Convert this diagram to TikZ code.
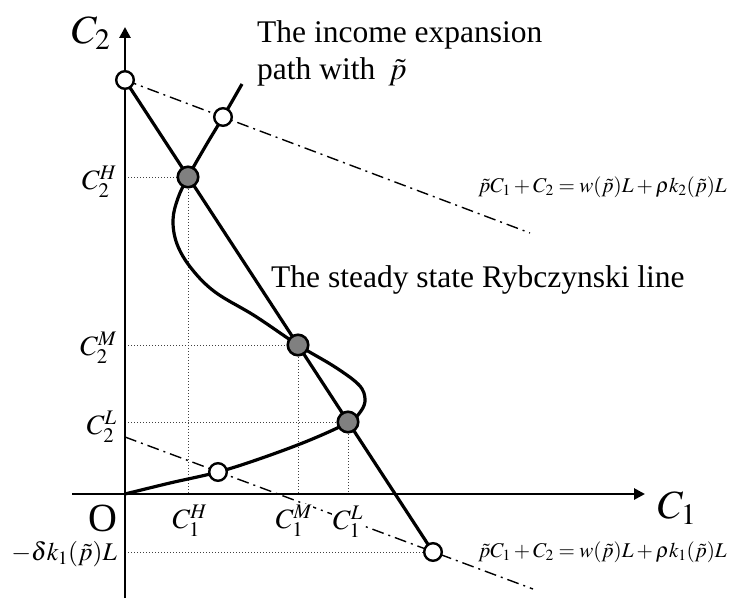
\documentclass[tikz,border=0pt]{standalone}
\usepackage{mathptmx}
\usepackage[no-math]{fontspec}
\setmainfont{Liberation Serif}
\usetikzlibrary{arrows.meta}
\tikzset{
 curveline/.style={line width=3.2pt, line join=round},
 axisline/.style={line width=2.8pt},
 budget/.style={line width=1.4pt, dash pattern=on 12pt off 5pt on 2pt off 5pt},
 guide/.style={line width=0.9pt, black!75, dash pattern=on 1pt off 2pt},
 graydot/.style={circle, draw, line width=2.6pt, fill=black!50, minimum size=20.5pt, inner sep=0pt},
 whitedot/.style={circle, draw, line width=2.4pt, fill=white, minimum size=17.6pt, inner sep=0pt},
 ticklab/.style={font=\fontsize{28}{30}\selectfont, inner sep=1pt, fill=white},
 axislab/.style={font=\fontsize{40}{44}\selectfont, inner sep=0pt},
 textlab/.style={font=\fontsize{31.5}{37}\selectfont, anchor=base west, inner sep=0pt},
 eqlab/.style={font=\fontsize{21}{24}\selectfont, anchor=west, inner sep=0pt},
}
\begin{document}
\begin{tikzpicture}[x=1pt,y=-1pt]
\useasboundingbox (0,0) rectangle (730,599);
% key points
\coordinate (O) at (125,494);
\coordinate (A) at (125,80);
\coordinate (B) at (433,552);
\coordinate (H) at (188,177);
\coordinate (M) at (298,345);
\coordinate (L) at (348,422);
\coordinate (W1) at (223,117);
\coordinate (W2) at (218,472);
\coordinate (U1) at (530,233);
\coordinate (D0) at (125,437);
\coordinate (D1) at (533,589);
\coordinate (XS) at (72,494);
\coordinate (XE) at (645,494);
\coordinate (YS) at (125,598);
\coordinate (YE) at (125,27);
% guides
\coordinate (HY) at (125,177);
\coordinate (MY) at (125,345);
\coordinate (LY) at (125,422);
\coordinate (BY) at (125,552);
\coordinate (HX) at (188,494);
\coordinate (MX) at (298,494);
\coordinate (LX) at (348,494);
\draw[guide] (HY) -- (H);
\draw[guide] (MY) -- (M);
\draw[guide] (LY) -- (L);
\draw[guide] (BY) -- (B);
\draw[guide] (H) -- (HX);
\draw[guide] (M) -- (MX);
\draw[guide] (L) -- (LX);
% budget lines
\draw[budget] (A) -- (U1);
\draw[budget] (D0) -- (D1);
% axes
\draw[axisline, -{Triangle[length=11pt,width=11pt]}] (XS) -- (XE);
\draw[axisline, -{Triangle[length=11pt,width=11pt]}] (YS) -- (YE);
% Rybczynski line
\draw[curveline] (A) -- (B);
% income expansion path
\draw[curveline] plot[smooth, tension=0.6] coordinates {
 (125,494) (170,483) (218,472) (262,458) (310,440) (349,422) (361,411) (365,399)
 (359,385) (335,367) (298,345) (255,316) (215,292) (191,268) (177,244) (173,220)
 (178,198) (188,177) (205,147) (223,117) (242,84)};
% dots
\node[whitedot] (nA) at (A) {};
\node[whitedot] (nW1) at (W1) {};
\node[whitedot] (nW2) at (W2) {};
\node[whitedot] (nB) at (B) {};
\node[graydot] (nH) at (H) {};
\node[graydot] (nM) at (M) {};
\node[graydot] (nL) at (L) {};
% axis labels
\node[axislab] (lC2) at (91,33) {$C_2$};
\node[axislab] (lC1) at (677,508) {$C_1$};
\node[axislab] (lO) at (103,518) {O};
% tick labels
\node[ticklab, anchor=east] (t2H) at (118,182) {$C_2^H$};
\node[ticklab, anchor=east] (t2M) at (118,348) {$C_2^M$};
\node[ticklab, anchor=east] (t2L) at (118,427) {$C_2^L$};
\node[ticklab, anchor=east, font=\fontsize{25.5}{28}\selectfont] (tdk) at (118,554) {$-\delta k_1(\tilde{p})L$};
\node[ticklab] (t1H) at (190,521) {$C_1^H$};
\node[ticklab] (t1M) at (294,521) {$C_1^M$};
\node[ticklab] (t1L) at (348,522) {$C_1^L$};
% equations
\node[eqlab] (e2) at (478,187) {$\tilde{p}C_1+C_2=w(\tilde{p})L+\rho k_2(\tilde{p})L$};
\node[eqlab] (e1) at (478,552) {$\tilde{p}C_1+C_2=w(\tilde{p})L+\rho k_1(\tilde{p})L$};
% texts
\node[textlab] (tx1) at (257,43) {The income expansion};
\node[textlab] (tx2) at (257,80) {path with\, $\tilde{p}$};
\node[textlab] (tx3) at (271,287) {The steady state Rybczynski line};
\end{tikzpicture}
\end{document}
